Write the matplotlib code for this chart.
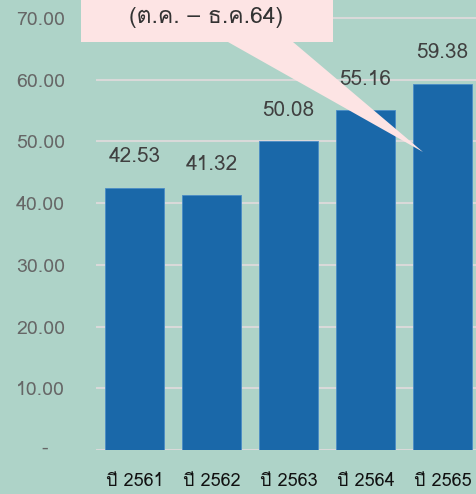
import matplotlib
matplotlib.use("Agg")
import matplotlib.pyplot as plt
from matplotlib import font_manager
from matplotlib.ft2font import FT2Font
from matplotlib.patches import Polygon

years = ["ปี 2561", "ปี 2562", "ปี 2563", "ปี 2564", "ปี 2565"]
values = [42.53, 41.32, 50.08, 55.16, 59.38]
yticks = [0, 10, 20, 30, 40, 50, 60, 70]
ytick_labels = ["-", "10.00", "20.00", "30.00", "40.00", "50.00", "60.00", "70.00"]
callout_text = "(ต.ค. – ธ.ค.64)"


def find_thai_font():
    # look for any installed font that actually has Thai glyphs
    names = []
    for f in font_manager.fontManager.ttflist:
        try:
            ft = FT2Font(f.fname)
            if ft.get_char_index(ord("ป")) and ft.get_char_index(ord("ค")):
                names.append(f.name)
        except Exception:
            pass
    return names


thai = find_thai_font()
families = ([thai[0]] if thai else []) + ["DejaVu Sans"]
plt.rcParams["font.family"] = families

bg = "#AED3C8"
fig = plt.figure(figsize=(4.76, 4.94), dpi=100, facecolor=bg)
ax = fig.add_axes([96 / 476, 1 - 450 / 494, 1 - 96 / 476, 450 / 494])
ax.set_facecolor(bg)

x = list(range(len(years)))
ax.bar(x, values, width=0.77, color="#1A68A9", edgecolor="#4A8CC6", linewidth=0.6, zorder=3)

for xi, v in zip(x, values):
    ax.annotate(f"{v:.2f}", (xi, v), xytext=(0, 22), textcoords="offset points",
                ha="center", va="center", fontsize=15, color="#404040", zorder=4)

ax.set_xlim(-0.5, 4.5 - 5 / 77)
ax.set_ylim(0, 70 + 18 / 61.7 * 10)
ax.set_yticks(yticks)
# zero gets an accounting-style dash drawn further right, below
ax.set_yticklabels([""] + ytick_labels[1:], color="#666666", fontsize=14)
ax.set_xticks(x)
ax.set_xticklabels(years, fontsize=13, color="#111111")
ax.tick_params(axis="both", length=0)
ax.tick_params(axis="y", pad=57.6)
ax.tick_params(axis="x", pad=16)
for lab in ax.get_yticklabels():
    lab.set_horizontalalignment("left")
ax.annotate(ytick_labels[0], (0, yticks[0]), xycoords=("axes fraction", "data"),
            xytext=(-51, 1), textcoords="offset pixels", ha="center", va="center",
            fontsize=14, color="#666666", annotation_clip=False)
ax.yaxis.grid(True, color="#D9D9D9", linewidth=1.5, zorder=1)
for s in ax.spines.values():
    s.set_visible(False)

# callout bubble, drawn in figure pixels (top-left origin)
W, H = 476, 494
pts = [(81, -5), (333, -5), (333, 42), (293, 42), (423, 152), (228, 42), (81, 42)]
poly = Polygon([(px / W, 1 - py / H) for px, py in pts], closed=True,
               transform=fig.transFigure, facecolor="#FDE4E4", edgecolor="none", zorder=10)
fig.patches.append(poly)
fig.text(206 / W, 1 - 17 / H, callout_text, ha="center", va="center", fontsize=16.5,
         color="#333333", zorder=11)

fig.savefig("out.png", dpi=100, facecolor=bg)
